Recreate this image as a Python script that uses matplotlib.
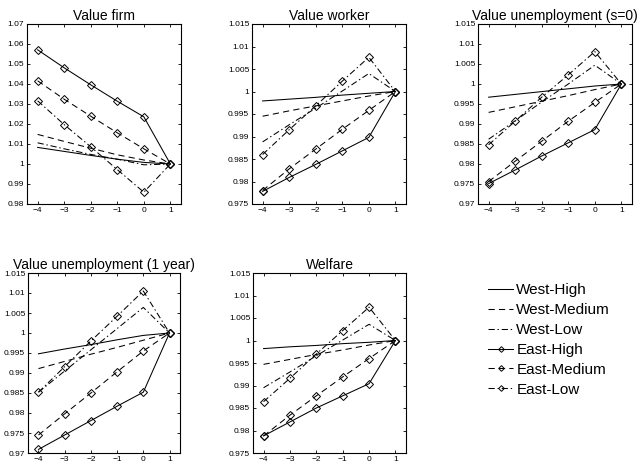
import matplotlib
matplotlib.use("Agg")
import matplotlib.pyplot as plt
from matplotlib.ticker import FormatStrFormatter, MultipleLocator

plt.rcParams['font.family'] = ['Liberation Sans', 'DejaVu Sans']
plt.rcParams['lines.scale_dashes'] = False

# horizon (years)
years = [-4, -3, -2, -1, 0, 1]
series_names = ["West-High", "West-Medium", "West-Low",
                "East-High", "East-Medium", "East-Low"]

# one row per series, same order as series_names
value_firm = [
    [1.0083, 1.0063, 1.0043, 1.0024, 1.0008, 1.0],
    [1.0148, 1.0113, 1.0079, 1.0046, 1.0020, 1.0],
    [1.0106, 1.0076, 1.0048, 1.0024, 0.9996, 1.0],
    [1.0571, 1.0481, 1.0396, 1.0314, 1.0236, 1.0],
    [1.0416, 1.0324, 1.0239, 1.0156, 1.0076, 1.0],
    [1.0316, 1.0197, 1.0086, 0.9972, 0.9859, 1.0],
]
value_worker = [
    [0.9979, 0.9983, 0.9987, 0.9992, 0.9996, 1.0],
    [0.9945, 0.9957, 0.9968, 0.9979, 0.9990, 1.0],
    [0.9888, 0.9926, 0.9963, 1.0001, 1.0040, 1.0],
    [0.9778, 0.9809, 0.9838, 0.9868, 0.9898, 1.0],
    [0.9780, 0.9828, 0.9872, 0.9916, 0.9958, 1.0],
    [0.9860, 0.9915, 0.9968, 1.0023, 1.0076, 1.0],
]
value_unemp_s0 = [
    [0.9967, 0.9974, 0.9981, 0.9988, 0.9995, 1.0],
    [0.9929, 0.9943, 0.9957, 0.9971, 0.9986, 1.0],
    [0.9862, 0.9908, 0.9955, 1.0000, 1.0047, 1.0],
    [0.9751, 0.9785, 0.9820, 0.9853, 0.9886, 1.0],
    [0.9756, 0.9807, 0.9857, 0.9907, 0.9954, 1.0],
    [0.9848, 0.9907, 0.9967, 1.0023, 1.0081, 1.0],
]
value_unemp_1y = [
    [0.9948, 0.9960, 0.9971, 0.9983, 0.9994, 1.0],
    [0.9911, 0.9929, 0.9947, 0.9964, 0.9982, 1.0],
    [0.9852, 0.9905, 0.9958, 1.0011, 1.0064, 1.0],
    [0.9709, 0.9745, 0.9781, 0.9817, 0.9852, 1.0],
    [0.9745, 0.9798, 0.9850, 0.9903, 0.9955, 1.0],
    [0.9852, 0.9916, 0.9980, 1.0042, 1.0105, 1.0],
]
welfare = [
    [0.9982, 0.9986, 0.9989, 0.9993, 0.9996, 1.0],
    [0.9947, 0.9958, 0.9969, 0.9979, 0.9990, 1.0],
    [0.9895, 0.9930, 0.9966, 1.0001, 1.0036, 1.0],
    [0.9788, 0.9819, 0.9850, 0.9877, 0.9904, 1.0],
    [0.9788, 0.9834, 0.9877, 0.9919, 0.9960, 1.0],
    [0.9864, 0.9916, 0.9970, 1.0022, 1.0074, 1.0],
]

panels = [
    ("Value firm", value_firm, (0.98, 1.07), 0.01),
    ("Value worker", value_worker, (0.975, 1.015), 0.005),
    ("Value unemployment (s=0)", value_unemp_s0, (0.97, 1.015), 0.005),
    ("Value unemployment (1 year)", value_unemp_1y, (0.97, 1.015), 0.005),
    ("Welfare", welfare, (0.975, 1.015), 0.005),
]

solid = '-'
dashed = (0, (4.5, 3))
dashdot = (0, (4.5, 2, 1, 2))
styles = [solid, dashed, dashdot, solid, dashed, dashdot]
markers = [None, None, None, 'D', 'D', 'D']

W, H = 641, 463
fig = plt.figure(figsize=(W / 100, H / 100), dpi=100)

# axes boxes in pixels: left, top, right, bottom
boxes = [(27, 24, 181, 204), (252, 24, 406, 204), (478, 24, 632, 204),
         (28, 273, 180, 453), (253, 273, 406, 453)]

handles = []
for (title, data, ylim, step), (l, t, r, b) in zip(panels, boxes):
    ax = fig.add_axes([l / W, 1 - b / H, (r - l) / W, (b - t) / H])
    hs = []
    for vals, ls, mk, name in zip(data, styles, markers, series_names):
        h, = ax.plot(years, vals, color='black', linestyle=ls, linewidth=0.75,
                     marker=mk, markersize=3.6, markerfacecolor='none',
                     markeredgewidth=0.7, label=name)
        hs.append(h)
    if not handles:
        handles = hs
    ax.set_xlim(-4.4, 1.4)
    ax.set_ylim(*ylim)
    ax.xaxis.set_major_locator(MultipleLocator(1))
    ax.yaxis.set_major_locator(MultipleLocator(step))
    ax.yaxis.set_major_formatter(FormatStrFormatter('%g'))
    ax.tick_params(direction='in', length=2.5, width=0.6, labelsize=6,
                   top=True, right=True, pad=2)
    for s in ax.spines.values():
        s.set_linewidth(0.8)
    ax.set_title(title, fontsize=10, pad=3)

fig.legend(handles=handles, labels=series_names, loc='center left',
           bbox_to_anchor=(488 / W, 1 - 340 / H), frameon=False,
           fontsize=11, handlelength=1.65, handletextpad=0.2,
           labelspacing=0.38, borderpad=0, borderaxespad=0, numpoints=1,
           markerscale=0.8)

fig.savefig("out.png", dpi=100)
